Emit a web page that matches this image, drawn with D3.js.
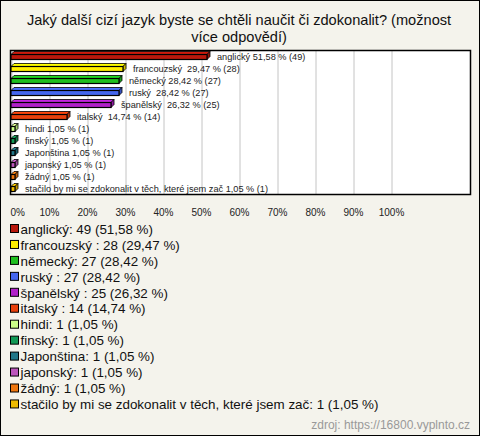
<!DOCTYPE html>
<html>
<head>
<meta charset="utf-8">
<script src="https://cdnjs.cloudflare.com/ajax/libs/d3/7.8.5/d3.min.js"></script>
<style>
  body { margin: 0; background: #fff; }
  svg { display: block; font-family: "Liberation Sans", Arial, sans-serif; }
</style>
</head>
<body>
<div class="chart"></div>
<script>
// chart data
var answers = ["anglický", "francouzský ", "německý", "ruský ", "španělský ", "italský ",
  "hindi", "finský", "Japonština", "japonský", "žádný",
  "stačilo by mi se zdokonalit v těch, které jsem zač"];
var counts = [49, 28, 27, 27, 25, 14, 1, 1, 1, 1, 1, 1];
var percents = [51.58, 29.47, 28.42, 28.42, 26.32, 14.74, 1.05, 1.05, 1.05, 1.05, 1.05, 1.05];
var colors = ["#b8180c", "#ffee00", "#1fbf1f", "#4466ee", "#b020c8", "#e8400c",
  "#ccff88", "#119955", "#227788", "#bb55bb", "#ee7711", "#eebb00"];
var tickValues = [0, 10, 20, 30, 40, 50, 60, 70, 80, 90, 100];

var svgWidth = 480;
var svgHeight = 436;

// plot box
var plot = { left: 10, top: 50, right: 470, bottom: 194 };

var svg = d3.select(".chart")
  .append("svg")
  .attr("width", svgWidth)
  .attr("height", svgHeight);

// background + frame
svg.append("rect")
  .attr("x", 0.5).attr("y", 0.5)
  .attr("width", svgWidth - 1).attr("height", svgHeight - 1)
  .attr("fill", "#f4f3ec")
  .attr("stroke", "#000");

// title
var title = svg.append("text")
  .attr("text-anchor", "middle")
  .attr("font-size", 14.6)
  .attr("fill", "#111");
title.append("tspan").attr("x", 239).attr("y", 25)
  .text("Jaký další cizí jazyk byste se chtěli naučit či zdokonalit? (možnost");
title.append("tspan").attr("x", 239).attr("y", 42)
  .text("více odpovědí)");

// scales
var xScale = d3.scaleLinear().domain([0, 100]).range([11, 391]);
var yScale = d3.scaleBand().domain(d3.range(answers.length)).range([plot.top, plot.bottom]);

svg.append("rect")
  .attr("x", plot.left + 0.5).attr("y", plot.top + 0.5)
  .attr("width", plot.right - plot.left).attr("height", plot.bottom - plot.top)
  .attr("fill", "#fff");

// gridlines
var grid = svg.append("g")
  .attr("transform", `translate(0, ${plot.top})`)
  .call(d3.axisBottom(xScale).tickValues(tickValues).tickSize(plot.bottom - plot.top).tickFormat(""));
grid.select(".domain").remove();
grid.selectAll("line").attr("stroke", "#c4c4c4").attr("transform", "translate(0.5,0)");

// frame of the plot on top of gridlines
svg.append("rect")
  .attr("x", plot.left + 0.5).attr("y", plot.top + 0.5)
  .attr("width", plot.right - plot.left).attr("height", plot.bottom - plot.top)
  .attr("fill", "none")
  .attr("stroke", "#000")
  .attr("stroke-width", 1.5);

// x axis labels
var xAxis = svg.append("g")
  .attr("transform", `translate(0, ${plot.bottom + 12})`)
  .call(d3.axisBottom(xScale).tickValues(tickValues).tickSize(0).tickFormat(d => d + "%"));
xAxis.select(".domain").remove();
xAxis.selectAll("text")
  .attr("font-family", "Liberation Sans, Arial, sans-serif")
  .attr("font-size", 10)
  .attr("fill", "#222")
  .attr("text-anchor", (d, i) => i === 0 ? "start" : "middle")
  .attr("x", (d, i) => i === 0 ? -1 : 0);

// 3d bars
var depth = 3;
var barH = 5;
var rows = svg.selectAll(".bar")
  .data(answers)
  .enter()
  .append("g")
  .classed("bar", true);

rows.each(function (name, i) {
  var g = d3.select(this);
  var x0 = xScale(0);
  var x1 = xScale(percents[i]);
  var y0 = yScale(i) + yScale.bandwidth() / 2 - 1.5;
  var c = d3.color(colors[i]);

  // top face
  g.append("path")
    .attr("d", `M${x0},${y0}L${x0 + depth},${y0 - depth}L${x1 + depth},${y0 - depth}L${x1},${y0}Z`)
    .attr("fill", c.brighter(0.3))
    .attr("stroke", "#000").attr("stroke-width", 0.8);
  // side face
  g.append("path")
    .attr("d", `M${x1},${y0}L${x1 + depth},${y0 - depth}L${x1 + depth},${y0 + barH - depth}L${x1},${y0 + barH}Z`)
    .attr("fill", c.darker(0.6))
    .attr("stroke", "#000").attr("stroke-width", 0.8);
  // front face
  g.append("rect")
    .attr("x", x0).attr("y", y0)
    .attr("width", x1 - x0).attr("height", barH)
    .attr("fill", c)
    .attr("stroke", "#000").attr("stroke-width", 1.2);

  g.append("text")
    .attr("x", x1 + depth + 7)
    .attr("y", y0 + 2.5)
    .attr("dy", "0.35em")
    .attr("font-size", 9.2)
    .attr("fill", "#222")
    .style("white-space", "pre")
    .text(name + " " + d3.format(".2f")(percents[i]).replace(".", ",") + " % (" + counts[i] + ")");
});

// legend
var legend = svg.selectAll(".legend")
  .data(answers)
  .enter()
  .append("g")
  .classed("legend", true)
  .attr("transform", (d, i) => `translate(10, ${229 + i * 15.95})`);

legend.append("rect")
  .attr("x", 0.5).attr("y", -4.5)
  .attr("width", 8).attr("height", 8)
  .attr("fill", (d, i) => colors[i])
  .attr("stroke", "#000");

legend.append("text")
  .attr("x", 10.5)
  .attr("dy", "0.35em")
  .attr("font-size", 13.4)
  .attr("fill", "#111")
  .style("white-space", "pre")
  .text((d, i) => d + ": " + counts[i] + " (" + d3.format(".2f")(percents[i]).replace(".", ",") + " %)");

// source
svg.append("text")
  .attr("x", 470)
  .attr("y", 429)
  .attr("text-anchor", "end")
  .attr("font-size", 12)
  .attr("fill", "#999")
  .text("zdroj: https://16800.vyplnto.cz");
</script>
</body>
</html>
